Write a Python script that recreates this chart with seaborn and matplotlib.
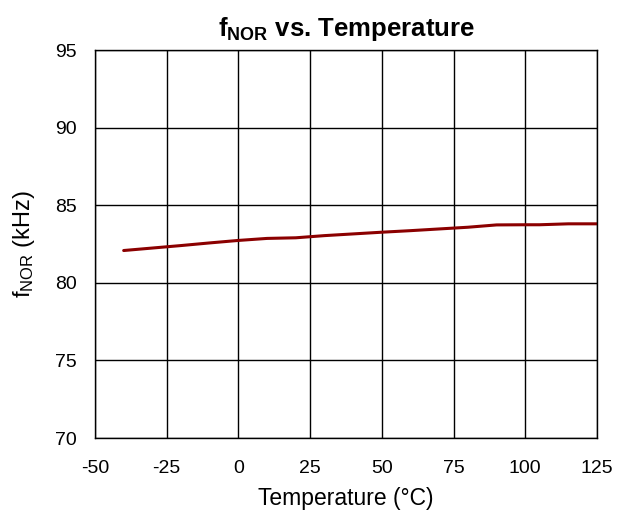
import matplotlib
matplotlib.use("Agg")
import matplotlib.pyplot as plt
import seaborn as sns
import pandas as pd

# Oscillator frequency measured across temperature
temperature_c = [-40, -30, -20, -10, 0, 10, 20, 30, 40, 50, 60, 70, 80, 90, 100, 105, 115, 125]
f_nor_khz = [82.08, 82.24, 82.40, 82.57, 82.73, 82.86, 82.90, 83.04, 83.15, 83.26,
             83.36, 83.47, 83.58, 83.73, 83.74, 83.74, 83.80, 83.80]

x_ticks = [-50, -25, 0, 25, 50, 75, 100, 125]
y_ticks = [70, 75, 80, 85, 90, 95]

sns.set_style("white")
plt.rcParams['font.family'] = ['Liberation Sans', 'DejaVu Sans']
plt.rcParams['mathtext.fontset'] = 'custom'
plt.rcParams['mathtext.rm'] = 'Liberation Sans'
plt.rcParams['mathtext.it'] = 'Liberation Sans'
plt.rcParams['mathtext.bf'] = 'Liberation Sans:bold'
plt.rcParams['axes.unicode_minus'] = False
plt.rcParams['text.color'] = 'black'
plt.rcParams['axes.labelcolor'] = 'black'

df = pd.DataFrame({"temp": temperature_c, "freq": f_nor_khz})

fig = plt.figure(figsize=(6.17, 5.19), dpi=100)
ax = fig.add_axes([95 / 617, 1 - 438 / 519, (597 - 95) / 617, (438 - 50) / 519])

sns.lineplot(data=df, x="temp", y="freq", ax=ax, color="#8B0000", linewidth=2.2)

ax.set_xlim(-50, 125)
ax.set_ylim(70, 95)
ax.set_xticks(x_ticks)
ax.set_yticks(y_ticks)
ax.grid(True, color="black", linewidth=1.0)
ax.set_axisbelow(True)
for s in ax.spines.values():
    s.set_color("black")
    s.set_linewidth(1.0)
    s.set_visible(True)
ax.tick_params(axis="both", length=3, color="black", labelsize=14, colors="black")
ax.tick_params(axis="y", pad=10)
ax.tick_params(axis="x", length=0, pad=16)

ax.set_xlabel("Temperature (°C)", fontsize=16.5, labelpad=7)
ax.set_ylabel(r"f$_{\mathrm{NOR}}$ (kHz)", fontsize=17, labelpad=13)
ax.set_title(r"$\mathbf{f_{NOR}}$ vs. Temperature", fontsize=18.5, fontweight="bold", pad=10)

fig.savefig("out.png", dpi=100)
